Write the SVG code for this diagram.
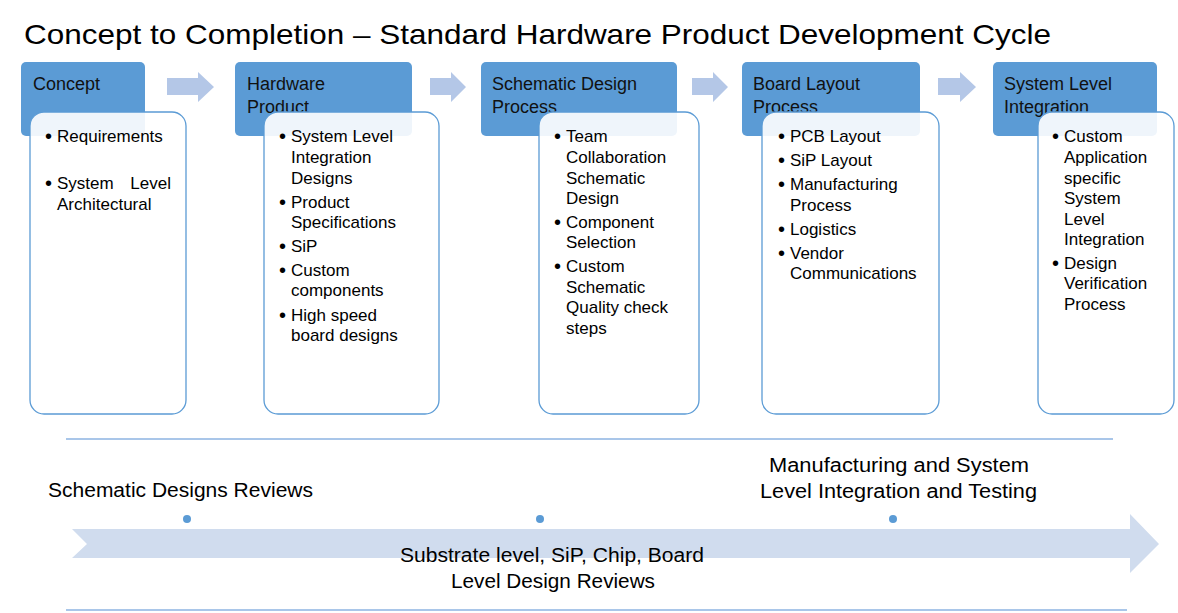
<svg xmlns="http://www.w3.org/2000/svg" width="1178" height="613" viewBox="0 0 1178 613">
<style>
text{font-family:"Liberation Sans",Arial,sans-serif;fill:#000}
.title{font-size:28px}
.hdr{fill:#5B9BD5}
.htxt{font-size:18px;fill:#111}
.card{fill:#fff;fill-opacity:0.9;stroke:#5B9BD5;stroke-width:1.3}
.b{font-size:17px}
.d{font-size:20px}
.flow{fill:#B4C7E7}
.big{fill:#D0DCEE}
.rule{stroke:#8DB3E2;stroke-width:1.3}
.dot{fill:#5B9BD5}
.lbl{font-size:20px}
</style>
<rect width="1178" height="613" fill="#fff"/>
<text class="title" x="24" y="44" textLength="1027" lengthAdjust="spacingAndGlyphs">Concept to Completion – Standard Hardware Product Development Cycle</text>

<g id="connectors">
<polygon class="flow" points="167,78 198,78 198,72 214,87 198,102 198,95 167,95"/>
<polygon class="flow" points="430,78 451,78 451,72 466,87 451,102 451,95 430,95"/>
<polygon class="flow" points="692,78 713,78 713,72 728,87 713,102 713,95 692,95"/>
<polygon class="flow" points="938,78 960,78 960,72 976,87 960,102 960,95 938,95"/>
</g>

<g id="node-concept">
<rect class="hdr" x="21" y="62" width="124" height="74" rx="5"/>
<text class="htxt" x="33" y="90">Concept</text>
<rect class="card" x="30" y="112" width="156" height="302" rx="14"/>
<text class="d" x="45" y="143">•</text><text class="b" x="57" y="142">Requirements</text>
<text class="d" x="45" y="190">•</text><text class="b" x="57" y="189">System</text><text class="b" x="171" y="189" text-anchor="end">Level</text>
<text class="b" x="57" y="210">Architectural</text>
</g>

<g id="node-hardware">
<rect class="hdr" x="235" y="62" width="177" height="74" rx="5"/>
<text class="htxt" x="247" y="90">Hardware</text>
<text class="htxt" x="247" y="113">Product</text>
<rect class="card" x="264" y="112" width="175" height="302" rx="14"/>
<text class="d" x="279" y="143">•</text><text class="b" x="291" y="142">System Level</text>
<text class="b" x="291" y="163">Integration</text>
<text class="b" x="291" y="184">Designs</text>
<text class="d" x="279" y="209">•</text><text class="b" x="291" y="208">Product</text>
<text class="b" x="291" y="228">Specifications</text>
<text class="d" x="279" y="253">•</text><text class="b" x="291" y="252">SiP</text>
<text class="d" x="279" y="277">•</text><text class="b" x="291" y="276">Custom</text>
<text class="b" x="291" y="296">components</text>
<text class="d" x="279" y="322">•</text><text class="b" x="291" y="321">High speed</text>
<text class="b" x="291" y="341">board designs</text>
</g>

<g id="node-schematic">
<rect class="hdr" x="481" y="62" width="196" height="74" rx="5"/>
<text class="htxt" x="492" y="90">Schematic Design</text>
<text class="htxt" x="492" y="113">Process</text>
<rect class="card" x="539" y="112" width="160" height="302" rx="14"/>
<text class="d" x="554" y="143">•</text><text class="b" x="566" y="142">Team</text>
<text class="b" x="566" y="163">Collaboration</text>
<text class="b" x="566" y="184">Schematic</text>
<text class="b" x="566" y="204">Design</text>
<text class="d" x="554" y="229">•</text><text class="b" x="566" y="228">Component</text>
<text class="b" x="566" y="248">Selection</text>
<text class="d" x="554" y="273">•</text><text class="b" x="566" y="272">Custom</text>
<text class="b" x="566" y="293">Schematic</text>
<text class="b" x="566" y="313">Quality check</text>
<text class="b" x="566" y="334">steps</text>
</g>

<g id="node-board">
<rect class="hdr" x="742" y="62" width="178" height="74" rx="5"/>
<text class="htxt" x="753" y="90">Board Layout</text>
<text class="htxt" x="753" y="113">Process</text>
<rect class="card" x="762" y="112" width="177" height="302" rx="14"/>
<text class="d" x="778" y="143">•</text><text class="b" x="790" y="142">PCB Layout</text>
<text class="d" x="778" y="167">•</text><text class="b" x="790" y="166">SiP Layout</text>
<text class="d" x="778" y="191">•</text><text class="b" x="790" y="190">Manufacturing</text>
<text class="b" x="790" y="211">Process</text>
<text class="d" x="778" y="236">•</text><text class="b" x="790" y="235">Logistics</text>
<text class="d" x="778" y="260">•</text><text class="b" x="790" y="259">Vendor</text>
<text class="b" x="790" y="279">Communications</text>
</g>

<g id="node-system">
<rect class="hdr" x="993" y="62" width="164" height="74" rx="5"/>
<text class="htxt" x="1004" y="90">System Level</text>
<text class="htxt" x="1004" y="113">Integration</text>
<rect class="card" x="1038" y="112" width="136" height="302" rx="14"/>
<text class="d" x="1052" y="143">•</text><text class="b" x="1064" y="142">Custom</text>
<text class="b" x="1064" y="163">Application</text>
<text class="b" x="1064" y="184">specific</text>
<text class="b" x="1064" y="204">System</text>
<text class="b" x="1064" y="225">Level</text>
<text class="b" x="1064" y="245">Integration</text>
<text class="d" x="1052" y="270">•</text><text class="b" x="1064" y="269">Design</text>
<text class="b" x="1064" y="289">Verification</text>
<text class="b" x="1064" y="310">Process</text>
</g>

<g id="timeline">
<line class="rule" x1="66" y1="439" x2="1113" y2="439"/>
<line class="rule" x1="66" y1="610" x2="1127" y2="610"/>
<polygon class="big" points="72,529 1130,529 1130,514 1159,544 1130,573 1130,558 72,558 87,544"/>
<circle class="dot" cx="187" cy="519" r="4"/>
<circle class="dot" cx="540" cy="519" r="4"/>
<circle class="dot" cx="893" cy="519" r="4"/>
<text class="lbl" x="48" y="497" textLength="265" lengthAdjust="spacingAndGlyphs">Schematic Designs Reviews</text>
<text class="lbl" x="769" y="472" textLength="260" lengthAdjust="spacingAndGlyphs">Manufacturing and System</text>
<text class="lbl" x="760" y="498" textLength="277" lengthAdjust="spacingAndGlyphs">Level Integration and Testing</text>
<text class="lbl" x="400" y="562" textLength="304" lengthAdjust="spacingAndGlyphs">Substrate level, SiP, Chip, Board</text>
<text class="lbl" x="451" y="588" textLength="204" lengthAdjust="spacingAndGlyphs">Level Design Reviews</text>
</g>
</svg>
